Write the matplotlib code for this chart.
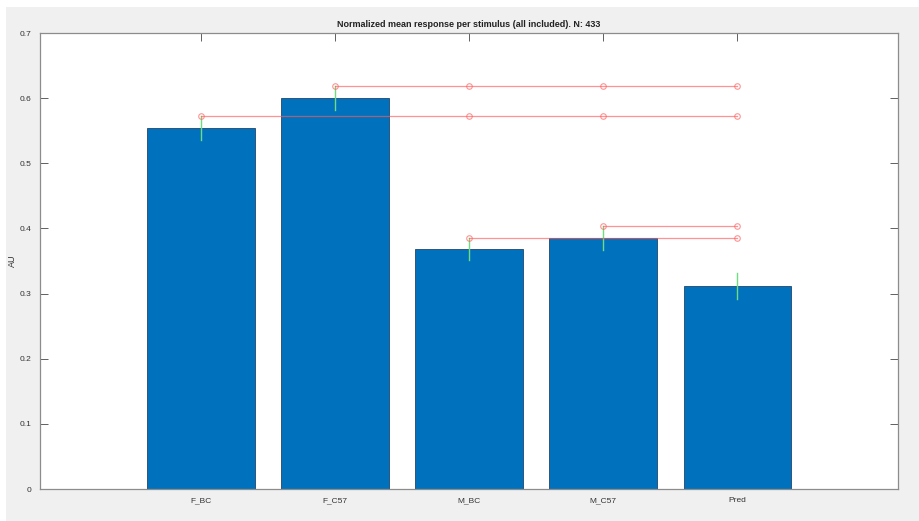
import numpy as np
import matplotlib.pyplot as plt
from matplotlib.patches import Rectangle

groups = ['F_BC', 'F_C57', 'M_BC', 'M_C57', 'Pred']
means = [0.554, 0.600, 0.369, 0.385, 0.311]
sems = [0.019, 0.018, 0.017, 0.018, 0.020]

# significant pairs (index of first group, index of second group)
sig_pairs = [(0, 2), (0, 3), (0, 4),
             (1, 2), (1, 3), (1, 4),
             (2, 4),
             (3, 4)]
n_cells = 433

BAR_COLOR = '#0072bd'
ERR_COLOR = '#6fdc80'
SIG_COLOR = '#ff5a5a'
AX_COLOR = '#8c8c8c'

plt.rcParams['font.family'] = ['Liberation Sans', 'DejaVu Sans']

fig = plt.figure(figsize=(9.19, 5.21), dpi=100)
fig.patch.set_facecolor('white')
fig.patches.append(Rectangle((6 / 919, 0), 1, 1 - 7 / 521, transform=fig.transFigure,
                             facecolor='#f0f0f0', edgecolor='none', zorder=-10))

ax = fig.add_axes([40 / 919, 1 - 489 / 521, (898 - 40) / 919, (489 - 33) / 521])
ax.set_facecolor('white')

x = np.arange(1, len(groups) + 1)
ax.bar(x, means, width=0.8, color=BAR_COLOR, edgecolor='#22456a', linewidth=0.6, zorder=2)
for xi, m, s in zip(x, means, sems):
    ax.plot([xi, xi], [m - s, m + s], color=ERR_COLOR, lw=1.0, zorder=3)

# significance lines start at the top of the first group's error bar;
# pairs sharing a first group are merged into one line with a marker per group
for i in sorted({p[0] for p in sig_pairs}):
    js = [j for a, j in sig_pairs if a == i]
    y = means[i] + sems[i]
    xs = [x[i]] + [x[j] for j in js]
    ax.plot(xs, [y] * len(xs), color=SIG_COLOR, lw=0.9, alpha=0.65, zorder=4,
            marker='o', markersize=4, markerfacecolor='none', markeredgewidth=0.8)

ax.set_xlim(-0.2, 6.2)
ax.set_ylim(0, 0.7)
ax.set_xticks(x)
ax.set_xticklabels(groups)
ax.set_yticks(np.arange(0, 0.71, 0.1))
ax.set_yticklabels(['0', '0.1', '0.2', '0.3', '0.4', '0.5', '0.6', '0.7'])
ax.tick_params(direction='in', length=5.8, width=0.7, color='#606060',
               labelsize=6, labelcolor='#333333', top=True, right=True, pad=6)
for sp in ax.spines.values():
    sp.set_color(AX_COLOR)
    sp.set_linewidth(0.9)
    sp.set_zorder(6)

ax.set_ylabel('AU', fontsize=6.5, color='#333333', labelpad=2)
ax.set_title(f'Normalized mean response per stimulus (all included). N: {n_cells}',
             fontsize=6.5, fontweight='bold', color='#222222', pad=4)

fig.savefig('out.png', dpi=100)
